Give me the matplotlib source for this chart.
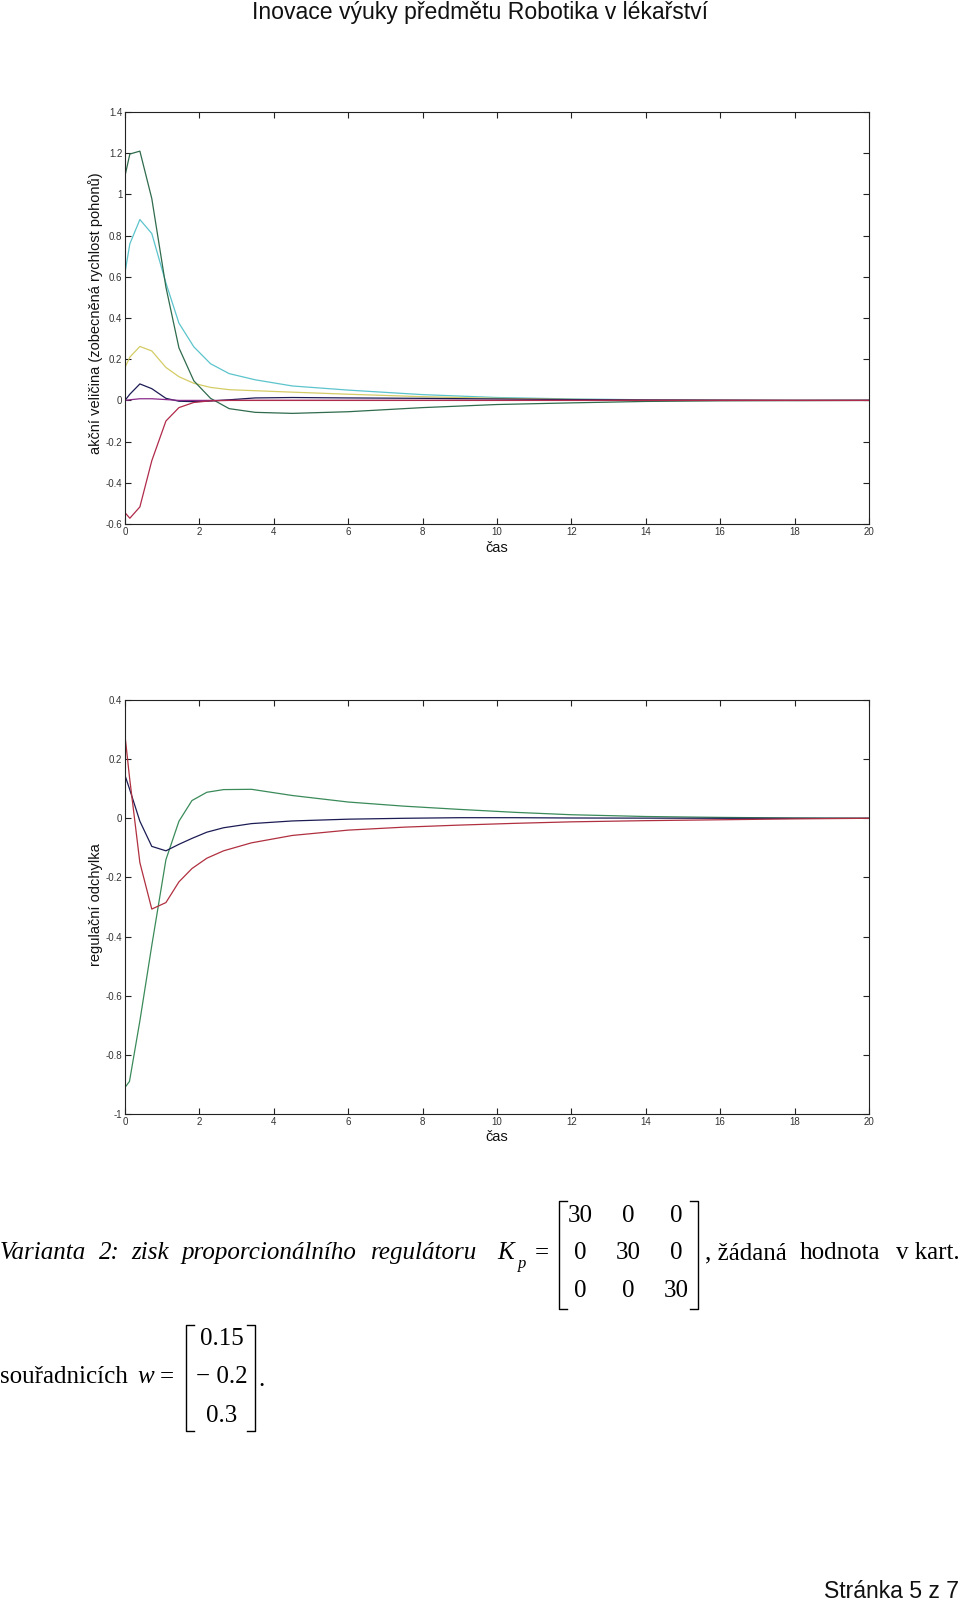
import matplotlib
matplotlib.use("Agg")
import matplotlib.pyplot as plt
from matplotlib.lines import Line2D
from matplotlib.ticker import FuncFormatter

plt.rcParams['axes.unicode_minus'] = False

# ---------------- data ----------------
t_top = [0, 0.13, 0.4, 0.72, 1.1, 1.45, 1.85, 2.3, 2.8, 3.5, 4.5, 6.0, 8.0, 10.0, 12.0, 14.0, 16.0, 18.0, 20.0]
u_green  = [1.09, 1.196, 1.21, 0.98, 0.55, 0.255, 0.095, 0.01, -0.04, -0.058, -0.063, -0.055, -0.035, -0.02, -0.012, -0.005, -0.002, -0.001, 0.0]
u_cyan   = [0.62, 0.76, 0.878, 0.81, 0.57, 0.375, 0.26, 0.178, 0.13, 0.1, 0.07, 0.05, 0.028, 0.014, 0.007, 0.003, 0.001, 0.0, 0.0]
u_yellow = [0.16, 0.21, 0.262, 0.24, 0.16, 0.115, 0.083, 0.063, 0.052, 0.047, 0.04, 0.03, 0.018, 0.01, 0.005, 0.002, 0.001, 0.0, 0.0]
u_navy   = [0.0, 0.03, 0.08, 0.057, 0.01, -0.004, -0.006, -0.003, 0.003, 0.012, 0.014, 0.012, 0.01, 0.007, 0.004, 0.002, 0.001, 0.0, 0.0]
u_purple = [0.0, 0.003, 0.008, 0.008, 0.004, 0.0, 0.0, 0.0, 0.0, 0.0, 0.0, 0.0, 0.0, 0.0, 0.0, 0.0, 0.0, 0.0, 0.0]
u_red    = [-0.545, -0.572, -0.517, -0.293, -0.1, -0.035, -0.01, -0.002, 0.0, 0.0, 0.0, 0.0, 0.0, 0.0, 0.0, 0.0, 0.0, 0.0, 0.0]

t_bot = [0, 0.12, 0.4, 0.72, 1.1, 1.45, 1.8, 2.2, 2.65, 3.4, 4.5, 6.0, 7.5, 9.0, 10.5, 12.0, 14.0, 16.0, 18.0, 20.0]
e_green = [-0.91, -0.89, -0.685, -0.43, -0.14, -0.01, 0.06, 0.088, 0.097, 0.098, 0.077, 0.055, 0.041, 0.03, 0.02, 0.012, 0.006, 0.003, 0.001, 0.0]
e_red   = [0.28, 0.14, -0.15, -0.307, -0.285, -0.215, -0.17, -0.135, -0.11, -0.083, -0.058, -0.04, -0.03, -0.023, -0.017, -0.012, -0.008, -0.005, -0.002, 0.0]
e_navy  = [0.145, 0.1, -0.01, -0.095, -0.11, -0.088, -0.068, -0.047, -0.032, -0.018, -0.009, -0.003, 0.0, 0.002, 0.002, 0.001, 0.0005, 0.0, 0.0, 0.0]

x_ticks = list(range(0, 21, 2))
y_ticks_top = [-0.6, -0.4, -0.2, 0, 0.2, 0.4, 0.6, 0.8, 1.0, 1.2, 1.4]
y_ticks_bot = [-1.0, -0.8, -0.6, -0.4, -0.2, 0, 0.2, 0.4]

header = "Inovace výuky předmětu Robotika v lékařství"
footer = "Stránka 5 z 7"
ylabel_top = "akční veličina (zobecněná rychlost pohonů)"
ylabel_bot = "regulační odchylka"
xlabel = "čas"
line1_words = ["Varianta", "2:", "zisk", "proporcionálního", "regulátoru"]
line1_tail = [", žádaná", "hodnota", "v kart."]
Kp = [["30", "0", "0"], ["0", "30", "0"], ["0", "0", "30"]]
w_vals = ["0.15", "\u2212 0.2", "0.3"]

# ---------------- figure ----------------
W, H = 960, 1603
fig = plt.figure(figsize=(W / 100, H / 100), dpi=100)
fig.patch.set_facecolor("white")

def fx(x):
    return x / W

def fy(y):
    return 1 - y / H

SANS = "Liberation Sans"
SERIF = "Liberation Serif"

def fmt(v, pos):
    return "%g" % round(v, 4)

def style_axes(ax, yt, ylim):
    ax.set_xlim(0, 20)
    ax.set_ylim(*ylim)
    ax.set_xticks(x_ticks)
    ax.set_yticks(yt)
    ax.xaxis.set_major_formatter(FuncFormatter(fmt))
    ax.yaxis.set_major_formatter(FuncFormatter(fmt))
    ax.tick_params(direction="in", length=4.5, width=0.8, top=True, right=True,
                   labelsize=7, labelcolor="#333333", color="#222222", pad=2)
    for lab in ax.get_xticklabels() + ax.get_yticklabels():
        lab.set_fontfamily(SANS)
    for s in ax.spines.values():
        s.set_linewidth(0.8)
        s.set_color("#222222")

lw = 0.9
# top axes
ax1 = fig.add_axes([fx(125), fy(524), fx(869 - 125), (524 - 112) / H])
ax1.plot(t_top, u_cyan, color="#5cc4cc", lw=lw)
ax1.plot(t_top, u_yellow, color="#d4cc66", lw=lw)
ax1.plot(t_top, u_green, color="#2f6b4c", lw=lw)
ax1.plot(t_top, u_navy, color="#1c1c55", lw=lw)
ax1.plot(t_top, u_purple, color="#8a2a8a", lw=lw)
ax1.plot(t_top, u_red, color="#b02a4a", lw=lw)
style_axes(ax1, y_ticks_top, (-0.6, 1.4))

# bottom axes
ax2 = fig.add_axes([fx(125), fy(1114), fx(869 - 125), (1114 - 700) / H])
ax2.plot(t_bot, e_green, color="#3a8a5a", lw=lw)
ax2.plot(t_bot, e_navy, color="#1c1c55", lw=lw)
ax2.plot(t_bot, e_red, color="#b03040", lw=lw)
style_axes(ax2, y_ticks_bot, (-1.0, 0.4))

# axis labels
LFS = 10.5
fig.text(fx(497), fy(548), xlabel, family=SANS, fontsize=LFS, ha="center", va="center", color="#111111")
fig.text(fx(497), fy(1137), xlabel, family=SANS, fontsize=LFS, ha="center", va="center", color="#111111")
fig.text(fx(96), fy(313), ylabel_top, family=SANS, fontsize=LFS, rotation=90, ha="center", va="center", color="#111111")
fig.text(fx(96), fy(905), ylabel_bot, family=SANS, fontsize=LFS, rotation=90, ha="center", va="center", color="#111111")

# header / footer
fig.text(fx(480), fy(13), header, family=SANS, fontsize=16.6, ha="center", va="center", color="#111111")
fig.text(fx(959), fy(1592), footer, family=SANS, fontsize=16.6, ha="right", va="center", color="#111111")

# body text
FS = 18
word_x = [0, 99, 131, 181, 371]
for xw, wd in zip(word_x, line1_words):
    fig.text(fx(xw), fy(1253), wd, family=SERIF, style="italic",
             fontsize=FS, ha="left", va="center", color="black")
fig.text(fx(506), fy(1253), "K", family=SERIF, style="italic", fontsize=FS, ha="center", va="center")
fig.text(fx(522), fy(1264), "p", family=SERIF, style="italic", fontsize=12, ha="center", va="center")
fig.text(fx(542), fy(1253), "=", family=SERIF, fontsize=FS, ha="center", va="center")

col_x = [580, 628, 676]
row_y = [1216, 1253, 1291]
for i, row in enumerate(Kp):
    for j, val in enumerate(row):
        fig.text(fx(col_x[j]), fy(row_y[i]), val, family=SERIF, fontsize=FS, ha="center", va="center")

def bracket(x, y0, y1, direction):
    s = 8 * direction
    fig.add_artist(Line2D([fx(x + s), fx(x), fx(x), fx(x + s)], [fy(y0), fy(y0), fy(y1), fy(y1)],
                          transform=fig.transFigure, color="black", lw=1.0))

bracket(559, 1201, 1309, 1)
bracket(698, 1201, 1309, -1)
fig.text(fx(705), fy(1253), line1_tail[0], family=SERIF, fontsize=FS, ha="left", va="center")
fig.text(fx(840), fy(1253), line1_tail[1], family=SERIF, fontsize=FS, ha="center", va="center")
fig.text(fx(960), fy(1253), line1_tail[2], family=SERIF, fontsize=FS, ha="right", va="center")

fig.text(fx(0), fy(1377), "souřadnicích", family=SERIF, fontsize=FS, ha="left", va="center")
fig.text(fx(146), fy(1377), "w", family=SERIF, style="italic", fontsize=FS, ha="center", va="center")
fig.text(fx(167), fy(1377), "=", family=SERIF, fontsize=FS, ha="center", va="center")
w_rows = [1339, 1377, 1416]
for yv, val in zip(w_rows, w_vals):
    fig.text(fx(222), fy(yv), val, family=SERIF, fontsize=FS, ha="center", va="center")
bracket(186, 1325, 1431, 1)
bracket(255, 1325, 1431, -1)
fig.text(fx(262), fy(1380), ".", family=SERIF, fontsize=FS, ha="center", va="center")

fig.savefig("out.png", dpi=100, facecolor="white")
